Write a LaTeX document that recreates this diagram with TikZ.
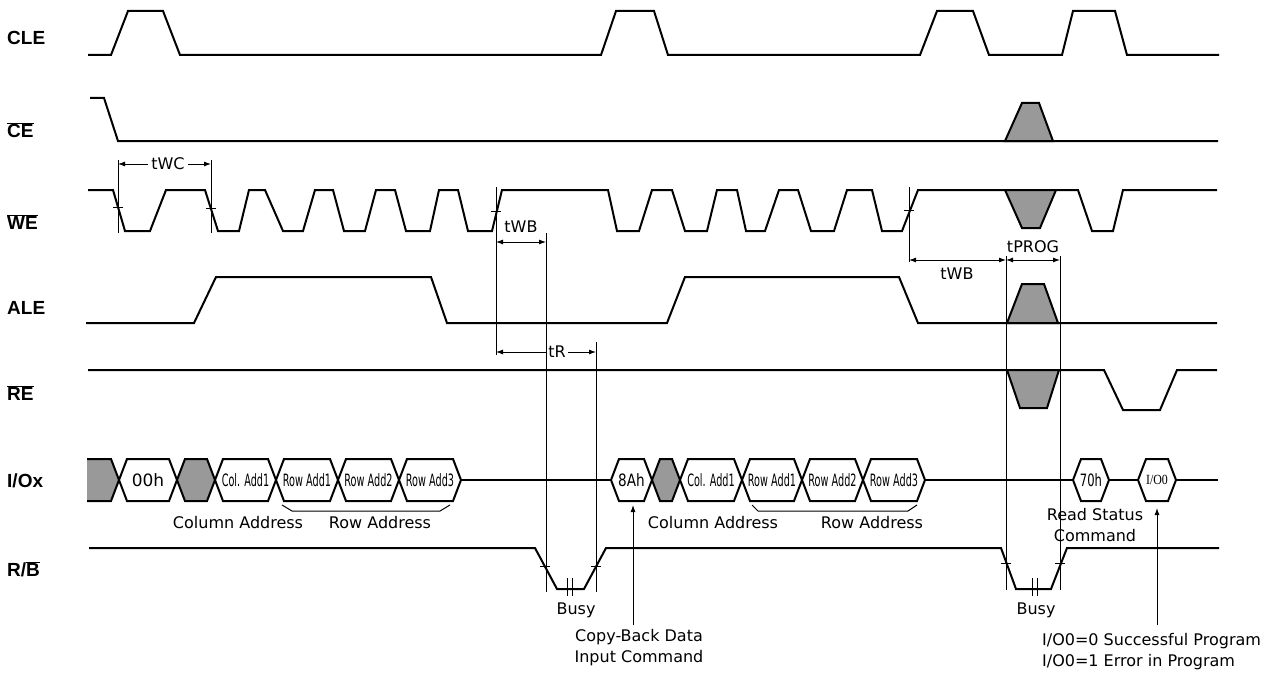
\documentclass[tikz,border=0pt]{standalone}
\usepackage{fontspec}
\setmainfont{DejaVu Sans}
\newfontfamily\lblfont{Liberation Sans}
\newfontfamily\serffont{Liberation Serif}
\usetikzlibrary{arrows.meta}
\definecolor{shade}{RGB}{153,153,153}
\tikzset{
  sig/.style={line width=2pt, line join=miter},
  dimline/.style={line width=0.9pt},
  tipboth/.style={line width=0.9pt, {Latex[length=7pt,width=5pt]}-{Latex[length=7pt,width=5pt]}},
  tipend/.style={line width=0.9pt, -{Latex[length=7pt,width=5pt]}},
  siglabel/.style={anchor=west, font=\lblfont\bfseries\fontsize{19}{19}\selectfont, inner sep=0pt},
  note/.style={font=\fontsize{16}{21}\selectfont, inner sep=0pt},
  hexlbl/.style={font=\fontsize{17}{17}\selectfont, inner sep=0pt},
}
\newcommand{\hexcell}[5]{%
  \filldraw[sig,fill=#4] (#1,480)--(#1+8,459)--(#2-8,459)--(#2,480)--(#2-8,501)--(#1+8,501)--cycle;
  \node[hexlbl] (#5) at ({(#1+#2)/2},480) {#3};}
\begin{document}
\begin{tikzpicture}[x=1pt,y=-1pt]
\useasboundingbox (0,0) rectangle (1286,677);

% signal names
\node[siglabel] (lcle) at (7,38) {CLE};
\node[siglabel] (lce) at (7,130) {$\overline{\mbox{\lblfont\bfseries CE}}$};
\node[siglabel] (lwe) at (7,222) {$\overline{\mbox{\lblfont\bfseries WE}}$};
\node[siglabel] (lale) at (7,308) {ALE};
\node[siglabel] (lre) at (7,393) {$\overline{\mbox{\lblfont\bfseries RE}}$};
\node[siglabel] (lio) at (7,481) {I/Ox};
\node[siglabel] (lrb) at (7,569) {R/$\overline{\mbox{\lblfont\bfseries B}}$};

% CLE
\draw[sig] (88,55)--(111,55)--(128,11)--(163,11)--(180,55)--(601,55)--(616,11)--(654,11)--(668,55)
  --(920,55)--(937,11)--(973,11)--(989,55)--(1062,55)--(1073,11)--(1115,11)--(1127,55)--(1219,55);

% CE
\draw[sig] (90,98)--(104,98)--(118,141)--(1218,141);
\filldraw[sig,fill=shade] (1005,141)--(1022,103)--(1039,103)--(1053,141)--cycle;

% WE
\draw[sig] (88,190)--(113,190)--(125,231)--(150,231)--(166,190)--(205,190)--(218,231)--(239,231)
  --(249,190)--(265,190)--(283,231)--(303,231)--(315,190)--(333,190)--(344,231)--(365,231)
  --(376,190)--(395,190)--(406,231)--(430,231)--(439,190)--(458,190)--(468,231)--(492,231)
  --(502,190)--(608,190)--(617,231)--(639,231)--(652,190)--(672,190)--(685,231)--(707,231)
  --(717,190)--(737,190)--(746,231)--(765,231)--(779,190)--(798,190)--(811,231)--(834,231)
  --(847,190)--(872,190)--(882,231)--(902,231)--(918,190)--(1078,190)--(1092,231)--(1113,231)
  --(1123,190)--(1217,190);
\filldraw[sig,fill=shade] (1005,190)--(1022,228)--(1040,228)--(1056,190)--cycle;

% ALE
\draw[sig] (86,323)--(194,323)--(216,277)--(431,277)--(447,323)--(667,323)--(685,277)--(899,277)
  --(918,323)--(1217,323);
\filldraw[sig,fill=shade] (1007,323)--(1022,284)--(1044,284)--(1058,323)--cycle;

% RE
\draw[sig] (88,370)--(1104,370)--(1123,410)--(1160,410)--(1177,370)--(1217,370);
\filldraw[sig,fill=shade] (1007,370)--(1020,408)--(1047,408)--(1059,370)--cycle;

% I/Ox
\filldraw[sig,fill=shade] (87,459)--(111,459)--(119,480)--(111,501)--(87,501);
\hexcell{119}{177}{00h}{white}{h00}
\hexcell{177}{215}{}{shade}{g1}
\hexcell{215}{276}{\scalebox{0.57}[1]{Col. Add1}}{white}{ca1}
\hexcell{276}{338}{\scalebox{0.57}[1]{Row Add1}}{white}{ra1}
\hexcell{338}{399}{\scalebox{0.57}[1]{Row Add2}}{white}{ra2}
\hexcell{399}{461}{\scalebox{0.57}[1]{Row Add3}}{white}{ra3}
\draw[sig] (461,480)--(611,480);
\hexcell{611}{652}{\scalebox{0.8}[1]{8Ah}}{white}{h8a}
\hexcell{652}{680}{}{shade}{g2}
\hexcell{680}{742}{\scalebox{0.57}[1]{Col. Add1}}{white}{cb1}
\hexcell{742}{802}{\scalebox{0.57}[1]{Row Add1}}{white}{rb1}
\hexcell{802}{863}{\scalebox{0.57}[1]{Row Add2}}{white}{rb2}
\hexcell{863}{925}{\scalebox{0.57}[1]{Row Add3}}{white}{rb3}
\draw[sig] (925,480)--(1073,480);
\hexcell{1073}{1109}{\scalebox{0.68}[1]{70h}}{white}{h70}
\draw[sig] (1109,480)--(1138,480);
\hexcell{1138}{1176}{\serffont\fontsize{14}{14}\selectfont\scalebox{0.85}[1]{I/O0}}{white}{io0}
\draw[sig] (1176,480)--(1218,480);

% braces
\draw[line width=1pt] (282,505)--(292,511)--(440,511)--(450,505);
\draw[line width=1pt] (752,505)--(758,511)--(908,511)--(917,505);
\node[note] (colA) at (238,523) {Column Address};
\node[note] (rowA) at (380,523) {Row Address};
\node[note] (colB) at (713,523) {Column Address};
\node[note] (rowB) at (872,523) {Row Address};

% R/B
\draw[sig] (89,548)--(535,548)--(557,589)--(584,589)--(606,548)--(1001,548)--(1016,589)--(1051,589)
  --(1067,548)--(1219,548);
\draw[dimline] (540,566)--(550,566) (591,566)--(601,566);
\draw[dimline] (1001,563)--(1011,563) (1055,563)--(1065,563);
\draw[dimline] (567,578)--(567,596) (572,578)--(572,596);
\draw[dimline] (1032,578)--(1032,596) (1037,578)--(1037,596);
\node[note] (busy1) at (576,610) {Busy};
\node[note] (busy2) at (1036,610) {Busy};

% WE ticks
\draw[dimline] (113,207)--(123,207) (206,208)--(216,208) (491,211)--(501,211) (904,210)--(914,210);

% vertical timing lines
\draw[dimline] (118,160)--(118,233);
\draw[dimline] (211,160)--(211,233);
\draw[dimline] (496,187)--(496,355);
\draw[dimline] (546,233)--(546,592);
\draw[dimline] (596,342)--(596,592);
\draw[dimline] (909,187)--(909,262);
\draw[dimline] (1006,256)--(1006,590);
\draw[dimline] (1060,256)--(1060,590);

% dimensions
\node[note] (twc) at (168,164) {tWC};
\draw[tipend] (148,164)--(118,164);
\draw[tipend] (188,164)--(211,164);
\draw[tipboth] (496,242)--(546,242);
\node[note] (twb1) at (521,227) {tWB};
\node[note] (tr) at (557,352) {tR};
\draw[tipend] (546,352)--(496,352);
\draw[tipend] (568,352)--(596,352);
\draw[tipboth] (909,260)--(1006,260);
\node[note] (twb2) at (957,274) {tWB};
\draw[tipboth] (1006,260)--(1060,260);
\node[note] (tprog) at (1033,247) {tPROG};

% command arrows and notes
\node[note, align=center] (cpb) at (639,648) {Copy-Back Data\\Input Command};
\draw[tipend] (633,625)--(633,505);
\node[note, align=center] (rsc) at (1095,525) {Read Status\\Command};
\node[note, align=left, anchor=west] (iores) at (1042,652) {I/O0=0 Successful Program\\I/O0=1 Error in Program};
\draw[tipend] (1157,625)--(1157,508);
\end{tikzpicture}
\end{document}
